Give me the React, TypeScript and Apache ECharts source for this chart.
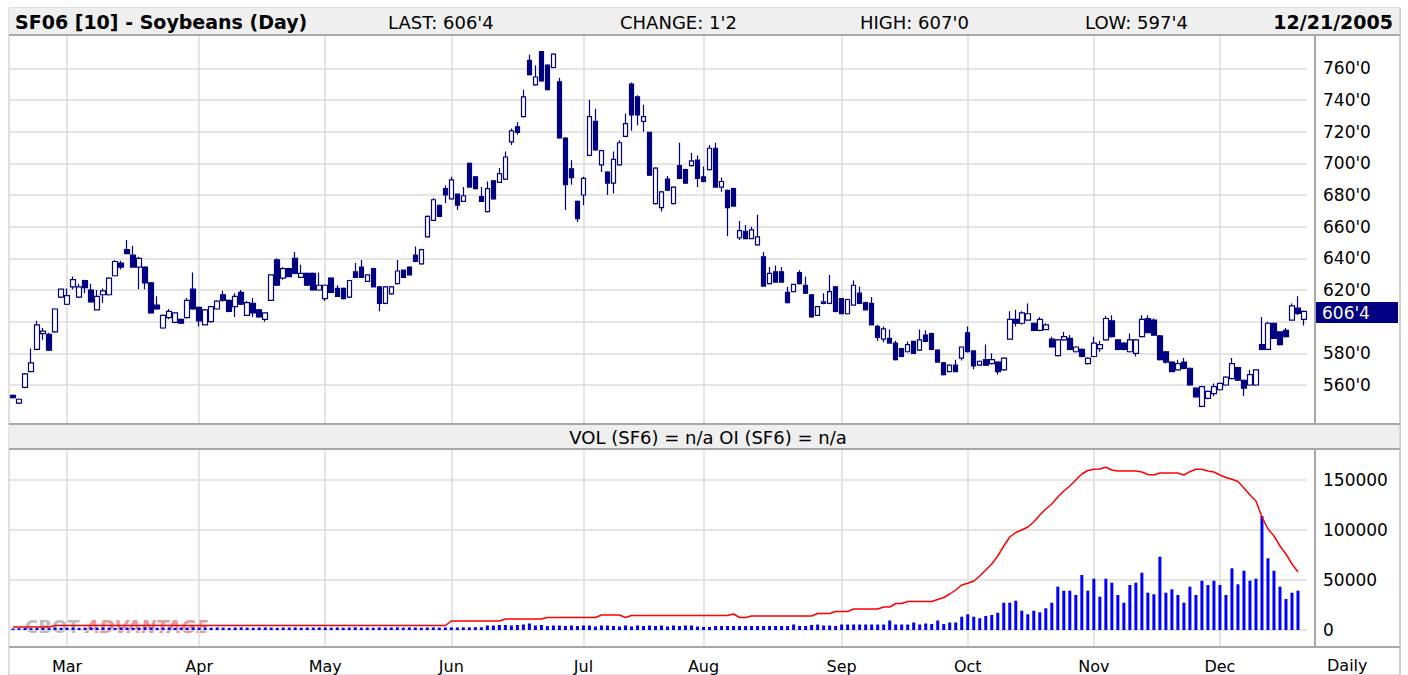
import React, { useEffect, useRef } from 'react';
import * as echarts from 'echarts';

// ---------- calendar ----------
const HOLIDAYS = ['2005-02-21', '2005-03-25', '2005-05-30', '2005-07-04', '2005-09-05', '2005-11-24'];
const MONTH_NAMES = ['Jan', 'Feb', 'Mar', 'Apr', 'May', 'Jun', 'Jul', 'Aug', 'Sep', 'Oct', 'Nov', 'Dec'];

function tradingDays(start: string, end: string): string[] {
  const out: string[] = [];
  const d = new Date(start + 'T00:00:00Z');
  const e = new Date(end + 'T00:00:00Z');
  while (d <= e) {
    const wd = d.getUTCDay();
    const s = d.toISOString().slice(0, 10);
    if (wd !== 0 && wd !== 6 && HOLIDAYS.indexOf(s) < 0) out.push(s);
    d.setUTCDate(d.getUTCDate() + 1);
  }
  return out;
}
const categories = tradingDays('2005-02-15', '2005-12-21');

// ---------- tick labels ----------
const priceGridTicks = [560, 580, 600, 620, 640, 660, 680, 700, 720, 740, 760];
// 600'0 sits behind the last-price marker in the reference
const priceLabelTicks = [560, 580, 620, 640, 660, 680, 700, 720, 740, 760];
const volumeTicks = [0, 50000, 100000, 150000];

// ---------- OHLC: [open, close, low, high] ----------
const feb = [
  [553.5, 552, 551.5, 554], [548.5, 551, 548, 551.5], [558.5, 567, 558, 567.5], [568.5, 574, 568, 583],
  [582.5, 598, 582, 600.5], [592.5, 594, 588.5, 596], [592, 582, 581.5, 593], [593.5, 608, 593, 608.5],
  [615.5, 620.5, 615, 621],
];
const mar = [
  [611, 616.5, 610.5, 621], [622, 626.5, 620.5, 628.5], [615.5, 622, 615, 624], [626, 621.5, 618, 626.5],
  [620, 612.5, 612, 624], [607.5, 616, 607, 620], [617, 619.5, 612, 621], [617, 627.5, 616.5, 628],
  [629, 638, 628.5, 639], [637, 634.5, 633, 638.5], [645.5, 643, 643, 651.5], [642, 634.5, 634, 648],
  [634.5, 640, 620.5, 641], [634.5, 624.5, 620.5, 635], [624.5, 605.5, 605, 625], [610.5, 608, 607.5, 616],
  [596, 604, 595.5, 604.5], [602.5, 606.5, 601.5, 608], [599.5, 605.5, 599, 606], [601.5, 599, 598.5, 602],
  [602.5, 613.5, 602, 615], [620.5, 608, 607.5, 631],
];
const apr = [
  [609, 600.5, 597, 609.5], [598, 607.5, 597.5, 608], [600, 609.5, 599.5, 610], [608, 613, 607.5, 613.5],
  [617, 613.5, 612.5, 619.5], [613.5, 606.5, 606, 614], [609.5, 616, 603, 618], [618.5, 611, 610.5, 620],
  [604, 612, 603.5, 613], [611.5, 605.5, 603, 615], [607.5, 603, 602.5, 608], [601.5, 605.5, 600, 606],
  [613.5, 629.5, 613, 630], [639, 623, 622.5, 640], [627.5, 633.5, 626.5, 634.5], [633.5, 628.5, 628, 634],
  [640, 630.5, 630, 644], [628, 630.5, 627.5, 636], [630.5, 623, 622.5, 631], [630.5, 620, 619.5, 631],
  [620, 623, 619.5, 631],
];
const may = [
  [614.5, 623, 613, 623.5], [627.5, 618.5, 618, 628], [621, 616, 615.5, 623], [621, 614.5, 614, 621.5],
  [615.5, 626, 615, 626.5], [631.5, 628, 627.5, 637], [634.5, 628, 627.5, 639], [625.5, 629.5, 625, 630],
  [633.5, 622, 621.5, 634], [622, 611.5, 606.5, 622.5], [611.5, 622, 611, 622.5], [617.5, 622, 617, 622.5],
  [624, 632, 623.5, 639], [632.5, 628, 627.5, 633], [634.5, 629.5, 629, 635], [642, 638, 637.5, 647.5],
  [636.5, 645.5, 636, 646], [653.5, 666.5, 653, 667], [664, 677, 663.5, 678], [673.5, 666.5, 666, 674],
  [684, 680, 675, 686],
];
const jun = [
  [677.5, 689.5, 677, 691.5], [680.5, 673.5, 670.5, 681], [676, 679.5, 675.5, 685], [700, 685, 684.5, 700.5],
  [691.5, 684, 683.5, 692], [679, 676, 675.5, 685], [669.5, 684, 669, 688.5], [689, 677.5, 677, 689.5],
  [688, 693.5, 687.5, 697], [690, 704, 689.5, 707.5], [713.5, 720.5, 711.5, 722], [723, 719.5, 718, 726],
  [729.5, 742, 729, 746.5], [765, 756, 755.5, 768.5], [749.5, 754.5, 749, 762], [770.5, 752, 751.5, 771],
  [762, 746.5, 746, 762.5], [760.5, 769, 760, 769.5], [751.5, 716, 715.5, 754], [716, 686.5, 670.5, 716.5],
  [696.5, 691, 686.5, 702], [676, 665, 663, 676.5],
];
const jul = [
  [680, 690.5, 673.5, 691.5], [705, 729.5, 704.5, 740], [726.5, 708.5, 708, 734.5], [699, 708, 694.5, 708.5],
  [694.5, 687.5, 680, 695], [687.5, 702.5, 681, 707.5], [699, 713, 698.5, 714.5], [717, 725, 716.5, 731.5],
  [750, 730.5, 720.5, 751], [742, 730.5, 724, 743], [726.5, 729.5, 720, 737], [719.5, 692.5, 692, 720],
  [674.5, 697, 674, 697.5], [672, 682, 669.5, 682.5], [690, 683, 682.5, 692], [674.5, 685, 674, 685.5],
  [698.5, 690.5, 690, 713], [696, 687.5, 687, 696.5], [698.5, 701.5, 698, 706.5], [702, 690.5, 685, 705],
];
const aug = [
  [691.5, 688.5, 688, 698], [696, 709.5, 695.5, 711.5], [709.5, 685, 684.5, 713], [685, 688.5, 682, 691],
  [683, 672, 654, 683.5], [684, 673, 672.5, 684.5], [653, 657.5, 651.5, 663.5], [657, 652.5, 652, 661],
  [652.5, 658, 652, 660], [648.5, 653.5, 648, 667.5], [641, 622.5, 622, 644], [624, 630.5, 623.5, 634.5],
  [631.5, 625, 624.5, 635.5], [631.5, 625, 624.5, 634.5], [618.5, 612, 611.5, 622], [619, 623.5, 618.5, 624],
  [631, 624, 623.5, 632.5], [623, 618, 617.5, 628.5], [617, 603, 602.5, 617.5], [604, 609.5, 603.5, 610],
  [611.5, 612.5, 611, 618], [611.5, 619, 611, 629.5], [622, 606.5, 606, 622.5],
];
const sep = [
  [614.5, 605, 604.5, 615], [605, 614, 604.5, 614.5], [610.5, 623, 610, 626], [618, 611.5, 611, 622],
  [612, 607.5, 607, 612.5], [611.5, 598, 597.5, 615.5], [597, 590, 588, 598], [589, 595.5, 587, 597],
  [589.5, 586.5, 586, 595], [586.5, 576, 575.5, 588], [583, 578, 577.5, 583.5], [581, 585.5, 580.5, 587.5],
  [587.5, 580, 579.5, 588], [582, 588.5, 581.5, 595], [591.5, 587.5, 587, 594.5], [592.5, 582.5, 582, 593],
  [582, 574.5, 574, 582.5], [574, 566.5, 566, 574.5], [568.5, 572.5, 568, 573], [572.5, 568.5, 568, 576],
  [577, 584, 575.5, 584.5],
];
const oct = [
  [593, 581, 580.5, 597], [581.5, 572, 570, 582], [572.5, 575, 572, 575.5], [576, 572.5, 572, 585.5],
  [573.5, 576, 573, 580], [574.5, 568.5, 566.5, 575], [569.5, 577, 569, 577.5], [589, 601.5, 588.5, 606.5],
  [601.5, 599, 597, 607.5], [599, 605.5, 598, 606.5], [601, 605, 600.5, 611.5], [599, 594.5, 594, 599.5],
  [594.5, 601.5, 594, 603], [595, 598, 594.5, 599], [589, 584, 583.5, 590.5], [578.5, 588.5, 578, 589],
  [588.5, 590.5, 588, 593.5], [589.5, 582.5, 582, 591.5], [581, 584, 580.5, 584.5], [582.5, 578, 577.5, 583],
  [573.5, 577, 573, 577.5],
];
const nov = [
  [578, 586.5, 577.5, 590.5], [583, 585.5, 581, 588], [588.5, 602, 588, 603.5], [600.5, 590.5, 590, 604],
  [588.5, 582.5, 582, 589], [586.5, 582.5, 582, 587], [581, 588.5, 580.5, 592.5], [580, 588.5, 578, 589],
  [590.5, 601.5, 590, 604], [602, 593, 592.5, 604], [601, 591.5, 591, 602], [591, 576, 575.5, 591.5],
  [581, 574.5, 573.5, 581.5], [574.5, 568.5, 568, 575], [569.5, 573.5, 569, 576], [574.5, 570.5, 570, 577],
  [570.5, 560, 559.5, 571], [558, 552.5, 552, 558.5], [546.5, 559, 546, 559.5], [551.5, 556, 551, 556.5],
  [554.5, 559, 553, 561],
];
const dec = [
  [557, 561, 556.5, 561.5], [560, 565, 559.5, 565.5], [564, 573.5, 563.5, 577], [571, 563, 562.5, 571.5],
  [563, 558, 553, 563.5], [560, 566.5, 559.5, 569.5], [560, 569.5, 559.5, 570], [585.5, 582.5, 582, 603],
  [582.5, 599, 582, 600], [599, 589.5, 589, 599.5], [593.5, 585.5, 585, 594], [594.5, 590.5, 590, 596],
  [601, 610, 600.5, 611.5], [608.5, 605.25, 604, 616], [601.5, 606.5, 597.5, 607],
];

// ---------- volume ----------
const volFeb = [1500, 1800, 2000, 1800, 2200, 2000, 1800, 2400, 2200];
const volMar = [2300, 2500, 2200, 2400, 2600, 2300, 2500, 2400, 2200, 2600, 2500, 2300, 2400, 2700, 2500, 2300, 2400, 2600, 2200, 2500, 2400, 2600];
const volApr = [2400, 2500, 2300, 2600, 2400, 2200, 2500, 2700, 2400, 2300, 2500, 2600, 2400, 2200, 2500, 2400, 2600, 2300, 2500, 2400, 2600];
const volMay = [2500, 2400, 2600, 2300, 2500, 2700, 2400, 2500, 2300, 2600, 2400, 2500, 2700, 2400, 2600, 2500, 2300, 2500, 2600, 2400, 2500];
const volJun = [2600, 2500, 2700, 2600, 2800, 2700, 4500, 4500, 5000, 5000, 4500, 5000, 5500, 6500, 4500, 5000, 4000, 4500, 4500, 4000, 4500, 4000];
const volJul = [4500, 4500, 3500, 4500, 4500, 4000, 3500, 4500, 3500, 4500, 4000, 4500, 4000, 4500, 3500, 4500, 4000, 4500, 4500, 3500];
const volAug = [3000, 3000, 4000, 4000, 4000, 4000, 4000, 4000, 4000, 4000, 4000, 4000, 4000, 4000, 4000, 5500, 4000, 4000, 5000, 5500, 4500, 4500, 4000];
const volSep = [5500, 5500, 5500, 5500, 5500, 5500, 5500, 5500, 9500, 5500, 5500, 5500, 7500, 5500, 6500, 6000, 9500, 6000, 7500, 7500, 13300];
const volOct = [15700, 13300, 11700, 14000, 15000, 17300, 27300, 27300, 29300, 19300, 15700, 19300, 17700, 21700, 27300, 43300, 39300, 39300, 35000, 55000, 39300];
const volNov = [51300, 33300, 51300, 47300, 35000, 27300, 45000, 47300, 57300, 37300, 35700, 73300, 37300, 40700, 35000, 27300, 43300, 35000, 49300, 45000, 49300];
const volDec = [45000, 35000, 61700, 45700, 59300, 49300, 51300, 114000, 71700, 59300, 43300, 31000, 37300, 39300, null];

// ---------- open interest ----------
const oiFeb = [3000, 3000, 3000, 3000, 3000, 3000, 3000, 4500, 4500];
const oiMar = [4500, 4500, 4500, 4500, 4500, 4500, 4500, 4500, 4500, 4500, 4500, 4500, 4500, 4500, 4500, 4500, 4500, 4500, 4500, 4500, 4500, 4500];
const oiApr = [4500, 4500, 4500, 4500, 4500, 4500, 4500, 4500, 4500, 4500, 4500, 4500, 4500, 4500, 4500, 4500, 4500, 4500, 4500, 4500, 4500];
const oiMay = [4500, 4500, 4500, 4500, 4500, 4500, 4500, 4500, 4500, 4500, 4500, 4500, 4500, 4500, 4500, 4500, 4500, 4500, 4500, 4500, 4500];
const oiJun = [9000, 9000, 9000, 9000, 9000, 9000, 9000, 9000, 9000, 11000, 11000, 11000, 11000, 11000, 11000, 11000, 12500, 12500, 12500, 12500, 12500, 12500];
const oiJul = [12500, 12500, 12500, 15000, 15000, 15000, 15000, 12500, 14500, 14500, 14500, 14500, 14500, 14500, 14500, 14500, 14500, 14500, 14500, 14500];
const oiAug = [14500, 14500, 14500, 14500, 14500, 16000, 12500, 12500, 14000, 14000, 14000, 14000, 14000, 14000, 14000, 14000, 14000, 14000, 14000, 16500, 16500, 16500, 18500];
const oiSep = [18500, 18500, 21000, 21000, 21000, 21000, 21000, 23000, 23000, 26500, 26500, 28500, 28500, 28500, 28500, 28500, 30500, 32500, 36000, 40000, 45000];
const oiOct = [46700, 49000, 54000, 60000, 66000, 74000, 84000, 93000, 97500, 100000, 103000, 108000, 115000, 121000, 126000, 133000, 139000, 144000, 150000, 156000, 159500];
const oiNov = [160700, 161000, 162700, 160000, 159000, 159000, 159000, 159000, 158000, 155500, 155000, 157000, 157000, 157000, 157000, 155000, 158300, 160700, 160700, 159000, 158000];
const oiDec = [155000, 152500, 150700, 148500, 142000, 135000, 129000, 113000, 101000, 94000, 84000, 76000, 66000, 58000, null];

const ohlc = [...feb, ...mar, ...apr, ...may, ...jun, ...jul, ...aug, ...sep, ...oct, ...nov, ...dec];
const volume = [...volFeb, ...volMar, ...volApr, ...volMay, ...volJun, ...volJul, ...volAug, ...volSep, ...volOct, ...volNov, ...volDec];
const openInterest = [...oiFeb, ...oiMar, ...oiApr, ...oiMay, ...oiJun, ...oiJul, ...oiAug, ...oiSep, ...oiOct, ...oiNov, ...oiDec];

const monthStart: Record<number, boolean> = {};
categories.forEach((c, i) => {
  if (i > 0 && c.slice(5, 7) !== categories[i - 1].slice(5, 7)) monthStart[i] = true;
});

const FONT = '"DejaVu Sans", Verdana, sans-serif';
const GRID_COLOR = '#dcdcdc';
const FRAME = '#a8a8a8';
const NAVY = '#000080';

export default function App() {
  const ref = useRef<HTMLDivElement>(null);

  useEffect(() => {
    if (!ref.current) return;
    const chart = echarts.init(ref.current, undefined, { renderer: 'svg' });

    const splitX = {
      show: true,
      interval: (index: number) => !!monthStart[index],
      alignWithLabel: true,
      lineStyle: { color: GRID_COLOR, width: 1.5 },
    };

    const option: any = {
      animation: false,
      backgroundColor: '#ffffff',
      grid: [
        { left: 10, right: 101, top: 36, height: 387, outerBoundsMode: 'none', containLabel: false },
        { left: 10, right: 101, top: 450, height: 196, outerBoundsMode: 'none', containLabel: false },
      ],
      xAxis: [
        {
          type: 'category', gridIndex: 0, data: categories, boundaryGap: true,
          axisLine: { show: false }, axisTick: { show: false }, axisLabel: { show: false },
          splitLine: splitX,
        },
        {
          type: 'category', gridIndex: 1, data: categories, boundaryGap: true,
          axisLine: { show: false }, axisTick: { show: false },
          axisLabel: {
            show: true,
            interval: (index: number) => !!monthStart[index],
            formatter: (v: string) => MONTH_NAMES[parseInt(v.slice(5, 7), 10) - 1],
            margin: 12, fontSize: 16, color: '#000', fontFamily: FONT,
          },
          splitLine: splitX,
        },
      ],
      yAxis: [
        {
          type: 'value', gridIndex: 0, position: 'right', min: 536, max: 780.4, scale: true,
          axisLine: { show: false },
          axisTick: { show: false, customValues: priceGridTicks },
          axisLabel: {
            customValues: priceLabelTicks,
            formatter: (v: number) => `${v}'0`,
            margin: 16, fontSize: 17, color: '#000', fontFamily: FONT,
            padding: [5, 0, 0, 0],
          },
          splitLine: { show: true, lineStyle: { color: GRID_COLOR, width: 1.5 } },
        },
        {
          type: 'value', gridIndex: 1, position: 'right', min: -16000, max: 180000,
          axisLine: { show: false },
          axisTick: { show: false, customValues: volumeTicks },
          axisLabel: {
            customValues: volumeTicks,
            formatter: (v: number) => `${v}`,
            margin: 16, fontSize: 17, color: '#000', fontFamily: FONT,
            padding: [4, 0, 0, 0],
          },
          splitLine: { show: true, lineStyle: { color: GRID_COLOR, width: 1.5 } },
        },
      ],
      series: [
        {
          type: 'candlestick', xAxisIndex: 0, yAxisIndex: 0, data: ohlc, barWidth: 5,
          itemStyle: {
            color: '#ffffff', color0: NAVY, borderColor: NAVY, borderColor0: NAVY,
            borderColorDoji: NAVY, borderWidth: 1.2,
          },
          z: 3,
        },
        {
          type: 'bar', xAxisIndex: 1, yAxisIndex: 1, data: volume, barWidth: 3,
          itemStyle: { color: '#0000ff' }, z: 3,
        },
        {
          type: 'line', xAxisIndex: 1, yAxisIndex: 1, data: openInterest,
          symbol: 'none', showSymbol: false, lineStyle: { color: '#ff0000', width: 1.5 },
          itemStyle: { color: '#ff0000' }, z: 4,
        },
      ],
      graphic: [
        { type: 'rect', z: -10, silent: true, shape: { x: 9, y: 8, width: 1391, height: 667 }, style: { fill: '#ffffff', stroke: '#c0c0c0', lineWidth: 1 } },
        { type: 'rect', z: -9, silent: true, shape: { x: 9, y: 8, width: 1391, height: 26 }, style: { fill: '#efefef' } },
        { type: 'line', z: -8, silent: true, shape: { x1: 9, y1: 35, x2: 1400, y2: 35 }, style: { stroke: FRAME, lineWidth: 2 } },
        { type: 'rect', z: -9, silent: true, shape: { x: 9, y: 424, width: 1391, height: 25 }, style: { fill: '#efefef' } },
        { type: 'line', z: -8, silent: true, shape: { x1: 9, y1: 424, x2: 1400, y2: 424 }, style: { stroke: FRAME, lineWidth: 2 } },
        { type: 'line', z: -8, silent: true, shape: { x1: 9, y1: 449, x2: 1400, y2: 449 }, style: { stroke: FRAME, lineWidth: 2 } },
        { type: 'line', z: -8, silent: true, shape: { x1: 9, y1: 647, x2: 1400, y2: 647 }, style: { stroke: FRAME, lineWidth: 2 } },
        { type: 'line', z: -8, silent: true, shape: { x1: 1315, y1: 36, x2: 1315, y2: 423 }, style: { stroke: FRAME, lineWidth: 2 } },
        { type: 'line', z: -8, silent: true, shape: { x1: 1315, y1: 450, x2: 1315, y2: 646 }, style: { stroke: FRAME, lineWidth: 2 } },
        { type: 'line', z: -8, silent: true, shape: { x1: 1400, y1: 8, x2: 1400, y2: 675 }, style: { stroke: '#c0c0c0', lineWidth: 1 } },
        // header texts
        { type: 'text', z: 10, x: 15, y: 22, style: { text: 'SF06 [10] - Soybeans (Day)', fill: '#000', font: `bold 19px ${FONT}`, verticalAlign: 'middle' } },
        { type: 'text', z: 10, x: 388, y: 22, style: { text: "LAST: 606'4", fill: '#000', font: `18px ${FONT}`, verticalAlign: 'middle' } },
        { type: 'text', z: 10, x: 620, y: 22, style: { text: "CHANGE: 1'2", fill: '#000', font: `18px ${FONT}`, verticalAlign: 'middle' } },
        { type: 'text', z: 10, x: 860, y: 22, style: { text: "HIGH: 607'0", fill: '#000', font: `18px ${FONT}`, verticalAlign: 'middle' } },
        { type: 'text', z: 10, x: 1085, y: 22, style: { text: "LOW: 597'4", fill: '#000', font: `18px ${FONT}`, verticalAlign: 'middle' } },
        { type: 'text', z: 10, x: 1393, y: 22, style: { text: '12/21/2005', fill: '#000', font: `bold 19px ${FONT}`, align: 'right', verticalAlign: 'middle' } },
        // separator text
        { type: 'text', z: 10, x: 708, y: 437, style: { text: 'VOL (SF6) = n/a OI (SF6) = n/a', fill: '#000', font: `18px ${FONT}`, align: 'center', verticalAlign: 'middle' } },
        // last price marker
        { type: 'rect', z: 100, silent: true, shape: { x: 1316, y: 302, width: 82, height: 21 }, style: { fill: NAVY } },
        { type: 'text', z: 101, x: 1322, y: 313, style: { text: "606'4", fill: '#ffffff', font: `17px ${FONT}`, verticalAlign: 'middle' } },
        // Daily
        { type: 'text', z: 10, x: 1327, y: 665, style: { text: 'Daily', fill: '#000', font: `16px ${FONT}`, verticalAlign: 'middle' } },
        // watermark
        {
          type: 'text', z: -5, x: 25, y: 626, silent: true,
          style: {
            text: '{a|CBOT}{b| ADVANTAGE}', verticalAlign: 'middle', opacity: 0.55,
            rich: {
              a: { fill: '#808080', font: `bold 18px ${FONT}` },
              b: { fill: '#d04040', font: `italic bold 18px ${FONT}` },
            },
          },
        },
      ],
    };

    chart.setOption(option);
    return () => chart.dispose();
  }, []);

  return (
    <div
      ref={ref}
      style={{ position: 'fixed', left: 0, top: 0, width: 1408, height: 675, background: '#fff' }}
    />
  );
}
